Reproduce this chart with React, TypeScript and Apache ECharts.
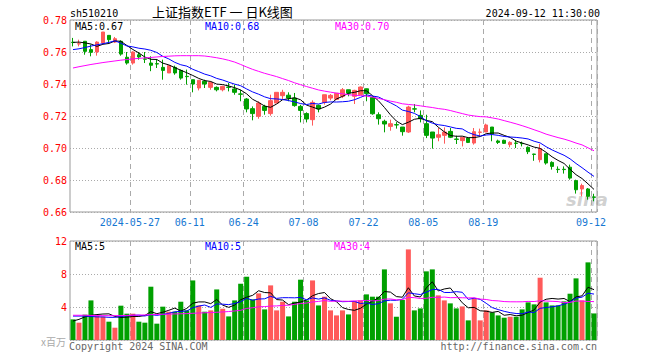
import React, { useEffect, useRef } from "react";
import * as echarts from "echarts";

const dates: string[] = [
  "2024-05-13","2024-05-14","2024-05-15","2024-05-16","2024-05-17","2024-05-20","2024-05-21","2024-05-22","2024-05-23","2024-05-24",
  "2024-05-27","2024-05-28","2024-05-29","2024-05-30","2024-05-31","2024-06-03","2024-06-04","2024-06-05","2024-06-06","2024-06-07",
  "2024-06-11","2024-06-12","2024-06-13","2024-06-14","2024-06-17","2024-06-18","2024-06-19","2024-06-20","2024-06-21","2024-06-24",
  "2024-06-25","2024-06-26","2024-06-27","2024-06-28","2024-07-01","2024-07-02","2024-07-03","2024-07-04","2024-07-05","2024-07-08",
  "2024-07-09","2024-07-10","2024-07-11","2024-07-12","2024-07-15","2024-07-16","2024-07-17","2024-07-18","2024-07-19","2024-07-22",
  "2024-07-23","2024-07-24","2024-07-25","2024-07-26","2024-07-29","2024-07-30","2024-07-31","2024-08-01","2024-08-02","2024-08-05",
  "2024-08-06","2024-08-07","2024-08-08","2024-08-09","2024-08-12","2024-08-13","2024-08-14","2024-08-15","2024-08-16","2024-08-19",
  "2024-08-20","2024-08-21","2024-08-22","2024-08-23","2024-08-26","2024-08-27","2024-08-28","2024-08-29","2024-08-30","2024-09-02",
  "2024-09-03","2024-09-04","2024-09-05","2024-09-06","2024-09-09","2024-09-10","2024-09-11","2024-09-12",
];

const opens: number[] = [
  0.7661,0.7650,0.7667,0.7615,0.7600,0.7656,0.7704,0.7662,0.7667,0.7567,
  0.7531,0.7583,0.7557,0.7531,0.7527,0.7504,0.7469,0.7504,0.7485,0.7448,
  0.7427,0.7375,0.7417,0.7379,0.7379,0.7364,0.7381,0.7369,0.7338,0.7306,
  0.7246,0.7198,0.7260,0.7215,0.7281,0.7327,0.7330,0.7312,0.7260,0.7215,
  0.7177,0.7267,0.7285,0.7312,0.7304,0.7323,0.7364,0.7323,0.7333,0.7370,
  0.7316,0.7208,0.7167,0.7135,0.7146,0.7131,0.7100,0.7245,0.7204,0.7152,
  0.7100,0.7067,0.7079,0.7104,0.7056,0.7046,0.7062,0.7031,0.7098,0.7100,
  0.7131,0.7044,0.7048,0.7021,0.7031,0.7029,0.7004,0.6962,0.6927,0.6964,
  0.6910,0.6867,0.6867,0.6880,0.6796,0.6744,0.6744,0.6694,
];
const closes: number[] = [
  0.7659,0.7652,0.7604,0.7598,0.7662,0.7725,0.7677,0.7683,0.7587,0.7531,
  0.7600,0.7569,0.7555,0.7517,0.7525,0.7485,0.7515,0.7469,0.7437,0.7446,
  0.7400,0.7423,0.7400,0.7410,0.7364,0.7385,0.7379,0.7348,0.7336,0.7244,
  0.7215,0.7281,0.7235,0.7296,0.7348,0.7348,0.7312,0.7265,0.7235,0.7181,
  0.7285,0.7244,0.7333,0.7329,0.7342,0.7364,0.7343,0.7360,0.7381,0.7340,
  0.7214,0.7183,0.7150,0.7152,0.7144,0.7102,0.7256,0.7243,0.7183,0.7079,
  0.7062,0.7083,0.7100,0.7067,0.7054,0.7067,0.7035,0.7102,0.7100,0.7144,
  0.7087,0.7035,0.7029,0.7035,0.7029,0.7027,0.6977,0.6960,0.6996,0.6906,
  0.6885,0.6865,0.6865,0.6812,0.6739,0.6765,0.6698,0.6692,
];
const lows: number[] = [
  0.7635,0.7635,0.7583,0.7573,0.7577,0.7650,0.7652,0.7656,0.7577,0.7521,
  0.7521,0.7552,0.7531,0.7480,0.7500,0.7427,0.7469,0.7458,0.7427,0.7396,
  0.7348,0.7360,0.7375,0.7364,0.7354,0.7354,0.7354,0.7333,0.7292,0.7223,
  0.7173,0.7183,0.7208,0.7202,0.7281,0.7306,0.7292,0.7258,0.7160,0.7160,
  0.7140,0.7223,0.7271,0.7298,0.7300,0.7312,0.7323,0.7275,0.7333,0.7292,
  0.7208,0.7146,0.7098,0.7108,0.7121,0.7077,0.7094,0.7223,0.7160,0.7062,
  0.6996,0.7042,0.7027,0.7062,0.7025,0.7010,0.7031,0.7021,0.7073,0.7100,
  0.7042,0.7025,0.7025,0.7004,0.7000,0.7010,0.6962,0.6920,0.6910,0.6896,
  0.6865,0.6844,0.6840,0.6802,0.6715,0.6698,0.6677,0.6667,
];
const highs: number[] = [
  0.7688,0.7677,0.7667,0.7646,0.7667,0.7725,0.7704,0.7694,0.7673,0.7600,
  0.7604,0.7600,0.7600,0.7573,0.7556,0.7552,0.7515,0.7515,0.7490,0.7490,
  0.7427,0.7423,0.7427,0.7417,0.7385,0.7390,0.7406,0.7396,0.7364,0.7312,
  0.7260,0.7292,0.7270,0.7333,0.7348,0.7364,0.7348,0.7344,0.7270,0.7223,
  0.7298,0.7271,0.7333,0.7337,0.7344,0.7375,0.7364,0.7364,0.7385,0.7372,
  0.7323,0.7223,0.7177,0.7177,0.7162,0.7131,0.7264,0.7275,0.7235,0.7208,
  0.7100,0.7125,0.7129,0.7125,0.7077,0.7069,0.7069,0.7125,0.7121,0.7152,
  0.7131,0.7052,0.7052,0.7042,0.7048,0.7040,0.7010,0.6964,0.7025,0.6964,
  0.6917,0.6885,0.6885,0.6896,0.6802,0.6777,0.6750,0.6714,
];

// volume, in millions (x百万)
const volumes: number[] = [
  2.5,2.1,3.07,4.8,2.95,2.82,2.22,1.49,4.16,3.19,
  3.19,2.22,2.1,6.46,1.98,4.04,3.43,3.43,4.64,3.59,
  7.22,4.19,3.43,3.59,6.13,3.79,2.86,4.8,6.82,7.67,
  4.92,5.65,3.71,6.62,3.59,4.64,2.86,4.64,7.31,4.8,
  7.22,4.19,5.25,3.59,2.98,3.59,3.1,4.73,4.8,5.53,
  5.25,5.25,8.56,4.44,2.82,4.85,10.98,3.59,3.83,8.32,
  8.56,5.41,4.8,4.44,3.83,4.07,2.38,5.04,2.38,3.59,
  3.35,2.98,2.7,2.82,2.82,3.71,4.56,4.32,7.55,4.56,
  4.19,4.19,4.68,5.61,7.47,4.8,9.41,3.22,
];

// moving-average values for the first bars (history before the window)
const ma5Head: number[] = [0.766, 0.7662, 0.7657, 0.765];
const ma10Head: number[] = [0.7615, 0.762, 0.7628, 0.7637, 0.7645, 0.7652, 0.766, 0.767, 0.7655];
const ma30Head: number[] = [
  0.75, 0.7508, 0.7515, 0.7522, 0.7528, 0.7534, 0.7539, 0.7544, 0.7549, 0.7553,
  0.7557, 0.756, 0.7563, 0.7566, 0.7569, 0.7572, 0.7574, 0.7576, 0.7577, 0.7577,
  0.7577, 0.7577, 0.7575, 0.757, 0.7564, 0.7557, 0.7548, 0.7537, 0.7522,
];
const vma5Head: number[] = [2.3, 2.5, 2.8, 3.0];
const vma10Head: number[] = [2.9, 2.9, 2.9, 2.85, 2.8, 2.8, 2.75, 2.75, 2.85];
const vma30Head: number[] = [
  3.0, 3.0, 3.0, 2.98, 2.96, 2.95, 2.95, 2.95, 2.96, 2.98,
  3.0, 3.02, 3.04, 3.07, 3.1, 3.12, 3.14, 3.16, 3.18, 3.2,
  3.24, 3.27, 3.3, 3.33, 3.36, 3.4, 3.45, 3.52, 3.6,
];

const tickDates: string[] = ["2024-05-27","2024-06-11","2024-06-24","2024-07-08","2024-07-22","2024-08-05","2024-08-19","2024-09-12"];
const tickLabels: string[] = ["2024-05-27","06-11","06-24","07-08","07-22","08-05","08-19","09-12"];

const priceTicks: number[] = [0.66, 0.78, 0.02];
const volTicks: number[] = [0, 12, 4];

const RED = "#ff5a5a";
const GREEN = "#00a000";
const BLUE_TXT = "#1677d2";
const MONO = "'DejaVu Sans Mono', 'Liberation Mono', monospace";

function movingAvg(values: number[], n: number, head: number[]): number[] {
  return values.map((_, i) => {
    if (i < n - 1) return head[i];
    let s = 0;
    for (let k = i - n + 1; k <= i; k++) s += values[k];
    return +(s / n).toFixed(5);
  });
}

export default function App() {
  const ref = useRef<HTMLDivElement>(null);
  useEffect(() => {
    if (!ref.current) return;
    const chart = echarts.init(ref.current, null, { renderer: "svg" });
    const isTick = (_i: number, v: string) => tickDates.indexOf(v) >= 0;
    const vSplit = { show: true, interval: isTick, lineStyle: { color: "#aaa", type: [5, 4], width: 1 } };
    const hSplit = { show: true, lineStyle: { color: "#aaa", type: [1, 2], width: 1 } };
    const lineS = (name: string, data: number[], color: string, xi: number) => ({
      name, type: "line", data, xAxisIndex: xi, yAxisIndex: xi, showSymbol: false, symbol: "none",
      silent: true, lineStyle: { color, width: 1 }, z: 3,
    });
    const txt = (text: string, x: number, y: number, fill: string, extra: any = {}) => ({
      type: "text", x, y, silent: true,
      style: { text, fill, font: `10px ${MONO}`, textVerticalAlign: "middle", verticalAlign: "middle", ...extra },
    });
    const option: any = {
      animation: false,
      backgroundColor: "#ffffff",
      grid: [
        { left: 70, top: 20, width: 527, height: 192, show: true, borderColor: "#999", borderWidth: 1 },
        { left: 70, top: 241, width: 527, height: 99, show: true, borderColor: "#999", borderWidth: 1 },
      ],
      xAxis: [
        {
          type: "category", gridIndex: 0, data: dates, boundaryGap: true,
          axisLine: { show: false }, axisTick: { show: false },
          axisLabel: {
            interval: isTick, color: BLUE_TXT, fontFamily: MONO, fontSize: 10, margin: 5, padding: [0, 6, 0, 0],
            formatter: (v: string) => tickLabels[tickDates.indexOf(v)] ?? "",
          },
          splitLine: vSplit,
        },
        {
          type: "category", gridIndex: 1, data: dates, boundaryGap: true,
          axisLine: { show: false }, axisTick: { show: false }, axisLabel: { show: false },
          splitLine: vSplit,
        },
      ],
      yAxis: [
        {
          type: "value", gridIndex: 0, min: priceTicks[0], max: priceTicks[1], interval: priceTicks[2], scale: true,
          axisLine: { show: false }, axisTick: { show: false },
          axisLabel: { color: "#f00", fontFamily: MONO, fontSize: 10, margin: 3, formatter: (v: number) => v.toFixed(2) },
          splitLine: hSplit,
        },
        {
          type: "value", gridIndex: 1, min: volTicks[0], max: volTicks[1], interval: volTicks[2],
          axisLine: { show: false }, axisTick: { show: false },
          axisLabel: { color: "#f00", fontFamily: MONO, fontSize: 10, margin: 3, formatter: (v: number) => (v === 0 ? "" : String(v)) },
          splitLine: hSplit,
        },
      ],
      series: [
        {
          type: "candlestick", xAxisIndex: 0, yAxisIndex: 0, barWidth: 4, silent: true,
          data: opens.map((o, i) => [o, closes[i], lows[i], highs[i]]),
          itemStyle: { color: RED, color0: GREEN, borderColor: RED, borderColor0: GREEN, borderWidth: 1 },
        },
        lineS("MA5", movingAvg(closes, 5, ma5Head), "#000000", 0),
        lineS("MA10", movingAvg(closes, 10, ma10Head), "#0000ff", 0),
        lineS("MA30", movingAvg(closes, 30, ma30Head), "#ff00ff", 0),
        {
          type: "bar", xAxisIndex: 1, yAxisIndex: 1, barWidth: 5, silent: true,
          data: volumes.map((v, i) => ({ value: v, itemStyle: { color: closes[i] >= opens[i] ? RED : GREEN } })),
        },
        lineS("VMA5", movingAvg(volumes, 5, vma5Head), "#000000", 1),
        lineS("VMA10", movingAvg(volumes, 10, vma10Head), "#0000ff", 1),
        lineS("VMA30", movingAvg(volumes, 30, vma30Head), "#ff00ff", 1),
      ],
      graphic: [
        txt("sh510210", 70, 13, "#000"),
        { type: "text", x: 152, y: 11.5, silent: true,
          style: { text: "上证指数ETF 一 日K线图", fill: "#000", font: "13px 'Noto Sans CJK SC'", verticalAlign: "middle", textVerticalAlign: "middle" } },
        txt("2024-09-12 11:30:00", 600, 13, "#000", { align: "right", textAlign: "right" }),
        txt("MA5:0.67", 75, 26.5, "#000"),
        txt("MA10:0.68", 205, 26.5, "#0000ff"),
        txt("MA30:0.70", 335, 26.5, "#ff00ff"),
        txt("MA5:5", 75, 246.5, "#000"),
        txt("MA10:5", 205, 246.5, "#0000ff"),
        txt("MA30:4", 334, 246.5, "#ff00ff"),
        txt("Copyright 2024 SINA.COM", 69, 346, "#666"),
        txt("http://finance.sina.com.cn", 597, 346, "#666", { align: "right", textAlign: "right" }),
        { type: "text", x: 66, y: 341, silent: true,
          style: { text: "x百万", fill: "#aaa", font: "10px 'Noto Sans CJK SC'", align: "right", textAlign: "right", verticalAlign: "middle", textVerticalAlign: "middle" } },
        { type: "text", x: 566, y: 199, silent: true, z: 0,
          style: { text: "sina", fill: "rgba(150,150,150,0.45)", font: "italic bold 18px 'DejaVu Sans'", verticalAlign: "middle", textVerticalAlign: "middle" } },
      ],
    };
    chart.setOption(option);
    return () => chart.dispose();
  }, []);
  return <div ref={ref} style={{ position: "fixed", left: 0, top: 0, width: 660, height: 360, background: "#fff" }} />;
}
